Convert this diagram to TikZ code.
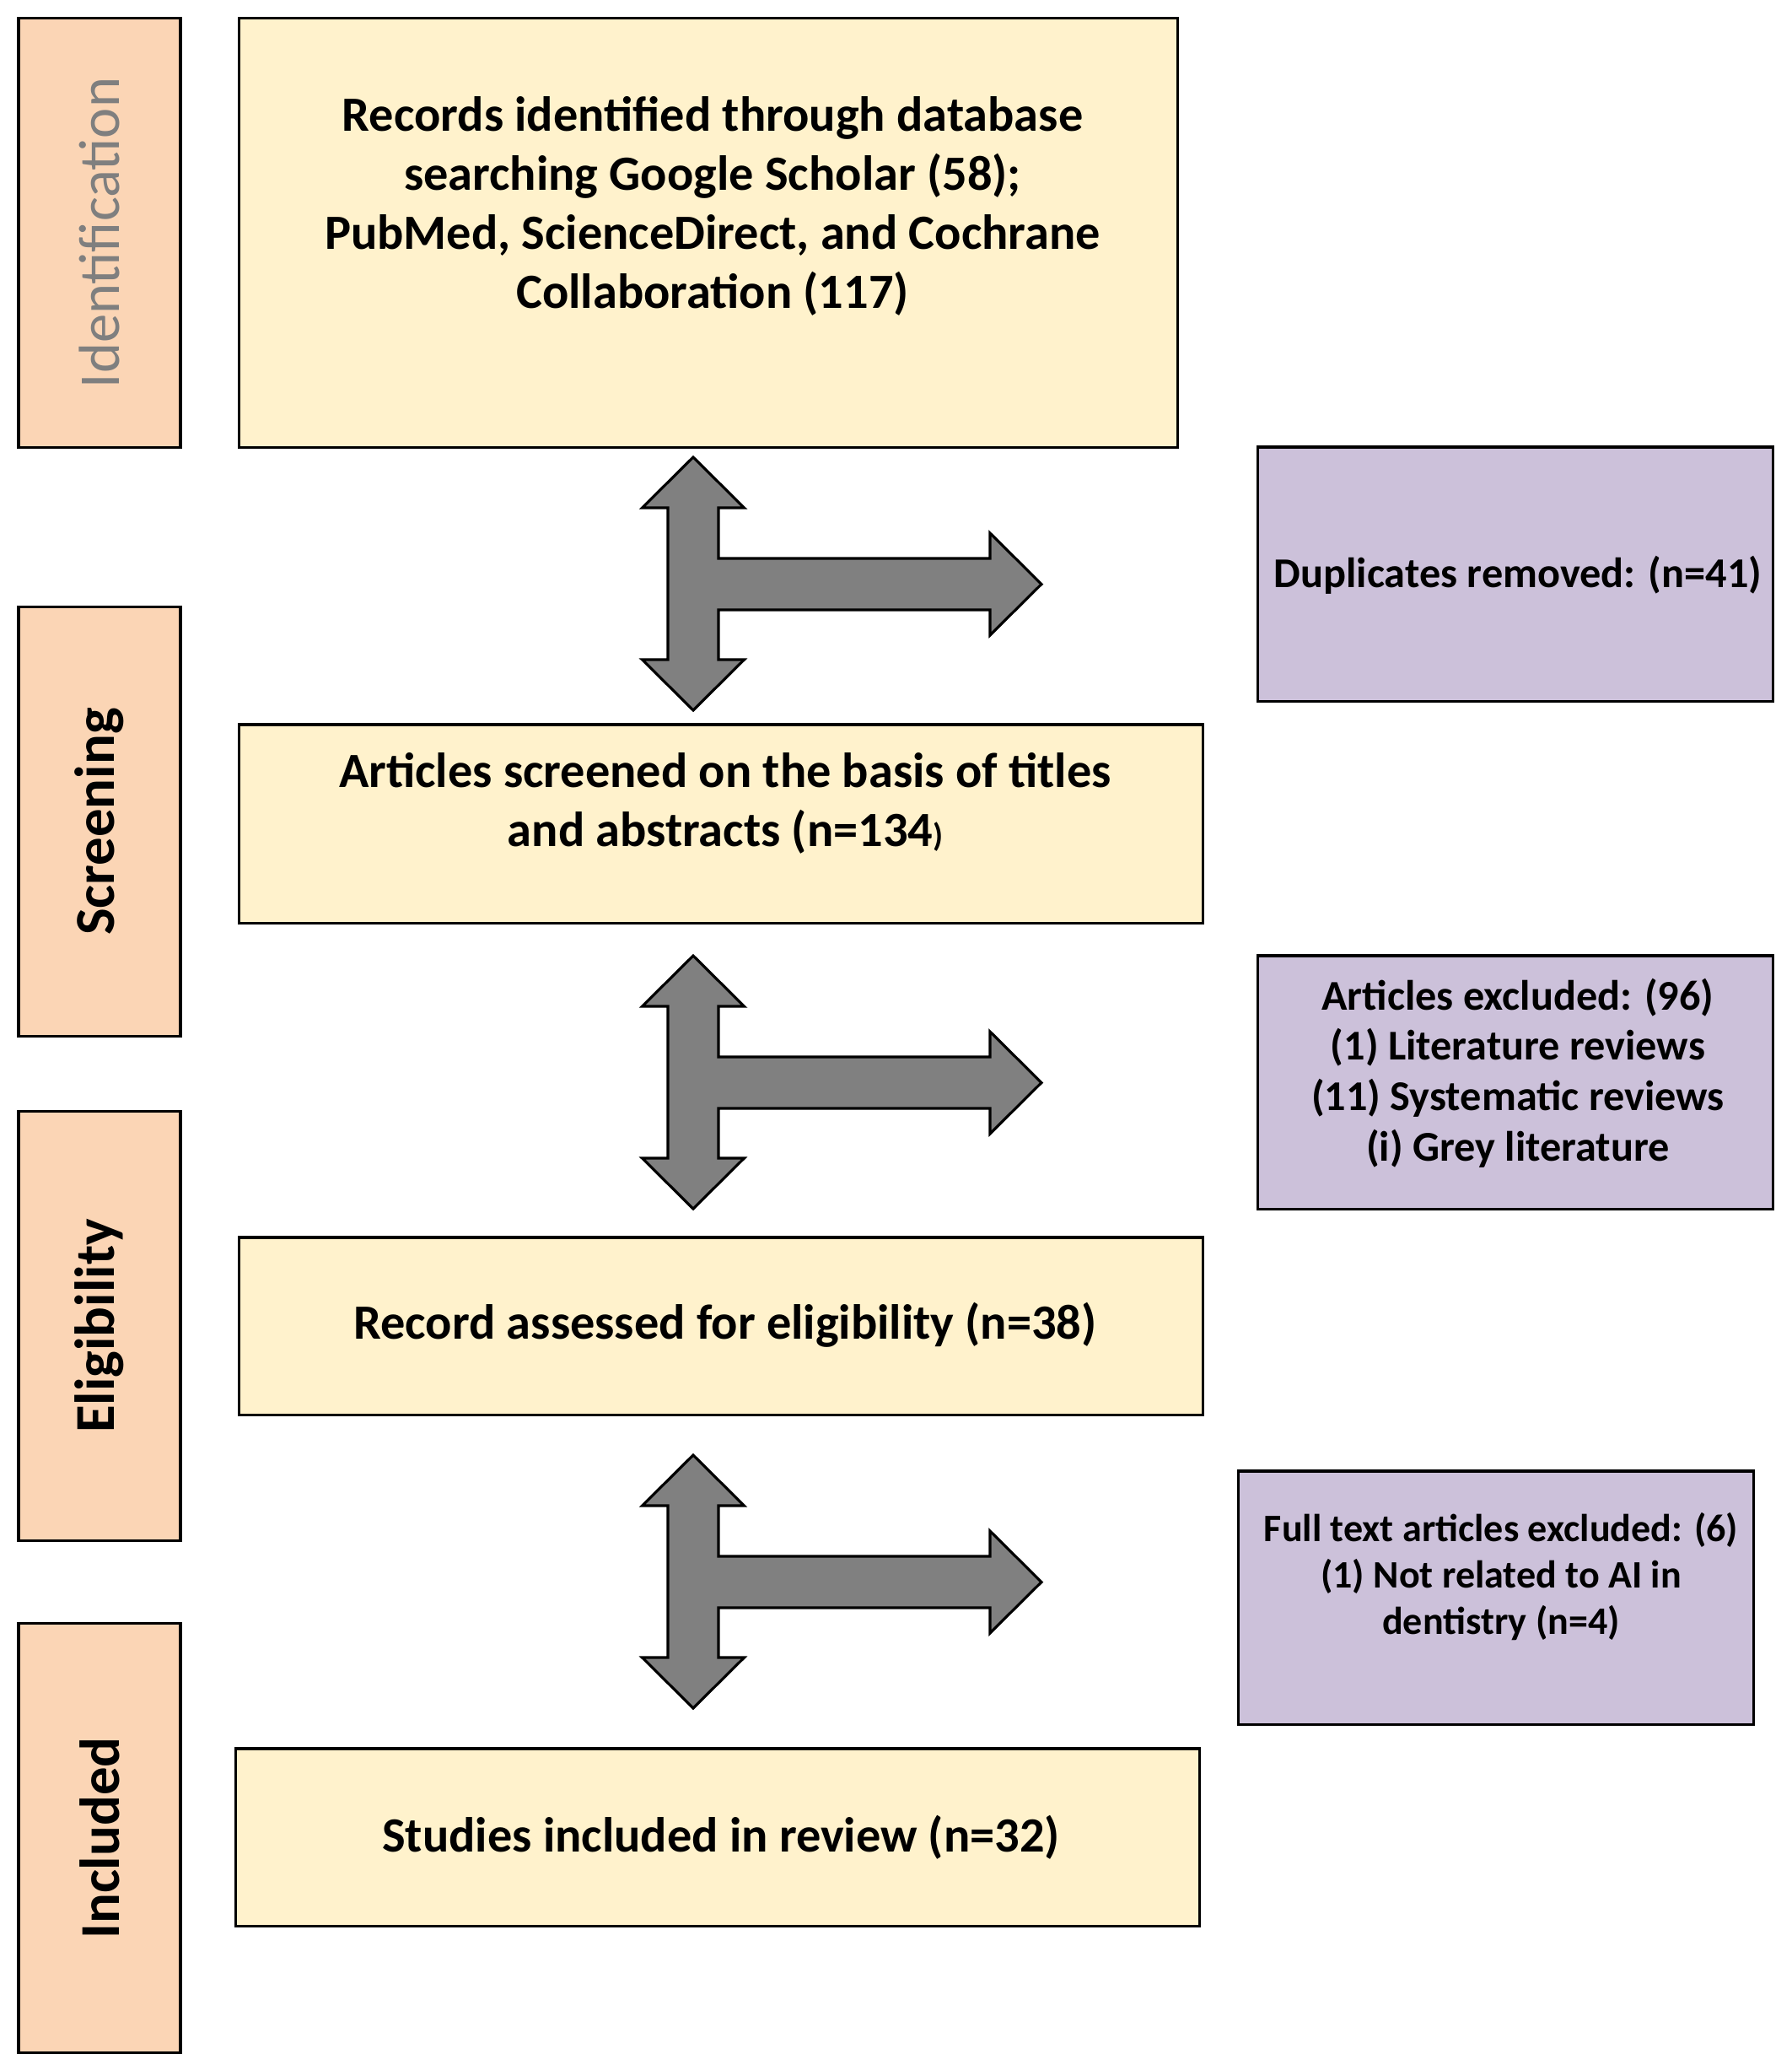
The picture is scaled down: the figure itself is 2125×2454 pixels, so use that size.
\documentclass[tikz,border=0pt]{standalone}
\usepackage{fontspec}
\setmainfont{Carlito}
\definecolor{stagefill}{HTML}{FBD5B5}
\definecolor{boxfill}{HTML}{FFF2CC}
\definecolor{exfill}{HTML}{CCC1DA}
\definecolor{arrowfill}{HTML}{808080}
\definecolor{idgrey}{HTML}{7F7F7F}
\tikzset{
  stagebox/.style={draw=black, line width=0.9pt, fill=stagefill, rotate=90,
    minimum width=5.08cm, minimum height=1.92cm, inner sep=0pt,
    font=\fontsize{19}{23}\selectfont\bfseries},
  mainbox/.style={draw=black, line width=0.9pt, fill=boxfill, inner sep=0pt},
  exbox/.style={draw=black, line width=0.9pt, fill=exfill, inner sep=0pt},
  maintext/.style={align=center, inner sep=0pt, font=\fontsize{16.6}{19.9}\selectfont\bfseries},
  extext/.style={align=center, inner sep=0pt, font=\fontsize{14.3}{17}\selectfont\bfseries},
  smalltext/.style={align=center, inner sep=0pt, font=\fontsize{13.1}{15.6}\selectfont\bfseries},
  arrowshape/.style={draw=black, line width=0.9pt, fill=arrowfill, line join=miter},
  tarrow/.pic={
    \path[arrowshape] (0,0) -- (60.5,60) -- (30,60) -- (30,120) -- (352,120)
      -- (352,90) -- (413,150.5) -- (352,211) -- (352,181) -- (30,181)
      -- (30,240) -- (60.5,240) -- (0,300) -- (-60.5,240) -- (-30,240)
      -- (-30,60) -- (-60.5,60) -- cycle;
  }
}
\begin{document}
\begin{tikzpicture}[x=0.01cm, y=-0.01cm]
\useasboundingbox (0,0) rectangle (2125,2454);

% stage labels
\node[stagebox, font=\fontsize{19.5}{23}\selectfont, text=idgrey] (sid) at (118,276) {Identification};
\node[stagebox] (sscr) at (118,974) {Screening};
\node[stagebox] (selig) at (118,1572) {Eligibility};
\node[stagebox] (sincl) at (118,2179) {Included};

% main boxes
\node[mainbox, minimum width=11.12cm, minimum height=5.08cm] (b1) at (840,276) {};
\node[maintext] (b1t) at (845,244) {Records identified through database\\searching Google Scholar (58);\\PubMed, ScienceDirect, and Cochrane\\Collaboration (117)};

\node[mainbox, minimum width=11.42cm, minimum height=2.35cm] (b2) at (855,976.5) {};
\node[maintext] (b2t) at (860,952) {Articles screened on the basis of titles\\and abstracts (n=134{\fontsize{11}{12}\selectfont)}};

\node[mainbox, minimum width=11.42cm, minimum height=2.10cm] (b3) at (855,1572) {};
\node[maintext] (b3t) at (860,1571) {Record assessed for eligibility (n=38)};

\node[mainbox, minimum width=11.42cm, minimum height=2.10cm] (b4) at (851,2178) {};
\node[maintext] (b4t) at (855,2178) {Studies included in review (n=32)};

% exclusion boxes
\node[exbox, minimum width=6.10cm, minimum height=3.01cm] (p1) at (1797,680.5) {};
\node[extext] (p1t) at (1800,682) {Duplicates removed: (n=41)};

\node[exbox, minimum width=6.10cm, minimum height=3.00cm] (p2) at (1797,1283) {};
\node[extext] (p2t) at (1800,1272) {Articles excluded: (96)\\(1) Literature reviews\\(11) Systematic reviews\\(i) Grey literature};

\node[exbox, minimum width=6.10cm, minimum height=3.00cm] (p3) at (1774,1894) {};
\node[smalltext] (p3t) at (1780,1869) {Full text articles excluded: (6)\\(1) Not related to AI in\\dentistry (n=4)};

% T-arrows
\coordinate (a1) at (822,542);
\coordinate (a2) at (822,1133);
\coordinate (a3) at (822,1725);
\pic (ar1) at (a1) {tarrow};
\pic (ar2) at (a2) {tarrow};
\pic (ar3) at (a3) {tarrow};
\end{tikzpicture}
\end{document}
